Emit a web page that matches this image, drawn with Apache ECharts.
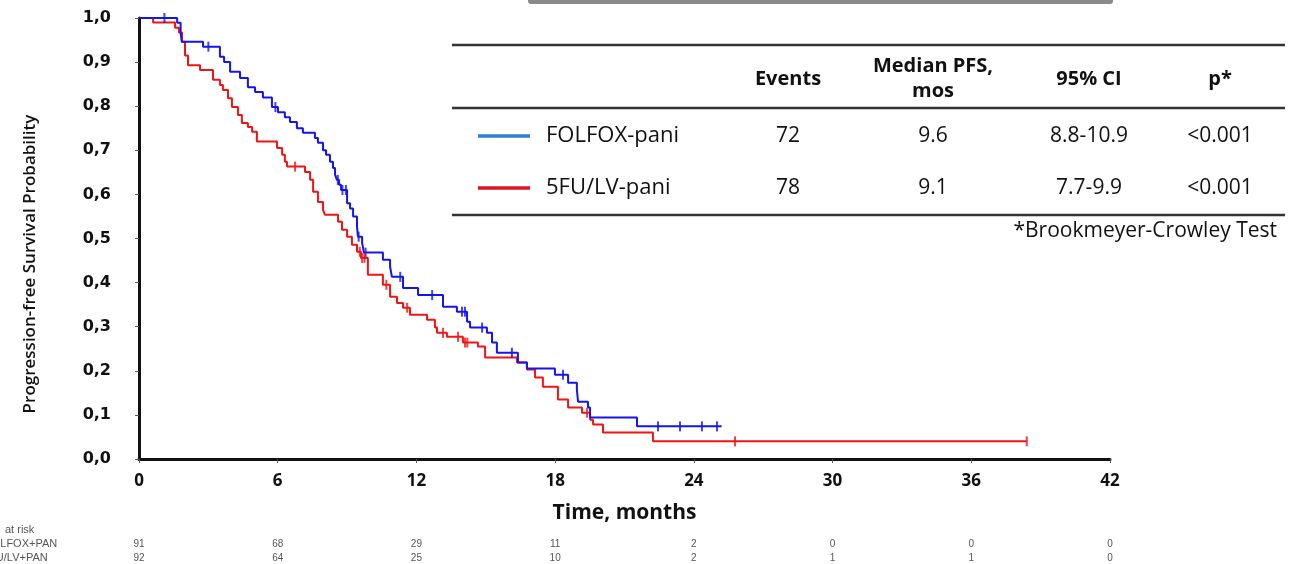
<!DOCTYPE html>
<html><head><meta charset="utf-8">
<script src="https://cdn.jsdelivr.net/npm/echarts@6/dist/echarts.min.js"></script>
<style>html,body{margin:0;padding:0;background:#fff}#c{width:1299px;height:564px}</style>
</head><body><div id="c"></div>
<script>
// ---- data ----
const xTicks = [0, 6, 12, 18, 24, 30, 36, 42];
const yTickLabels = ['0,0','0,1','0,2','0,3','0,4','0,5','0,6','0,7','0,8','0,9','1,0'];

// FOLFOX-pani (blue) KM steps: event time (months) and survival after the event
const folfoxTimes = [0, 1.65, 1.8, 1.85, 2.77, 3.5, 3.68, 3.94, 4.37, 4.71, 5.02, 5.36, 5.75, 6.01, 6.31, 6.53, 6.83, 7.09, 7.61, 7.74, 7.96, 8.09, 8.26, 8.39, 8.48, 8.56, 8.65, 8.74, 9.0, 9.13, 9.26, 9.43, 9.47, 9.65, 9.73, 10.55, 10.86, 10.94, 11.42, 12.07, 13.15, 13.75, 14.19, 14.32, 15.05, 15.27, 15.48, 16.39, 16.78, 17.99, 18.56, 18.94, 18.99, 19.42, 19.51, 21.54, 25.2];
const folfoxSurv  = [1.0, 0.989, 0.967, 0.946, 0.935, 0.912, 0.900, 0.878, 0.864, 0.843, 0.832, 0.820, 0.798, 0.786, 0.775, 0.764, 0.750, 0.740, 0.728, 0.717, 0.700, 0.690, 0.674, 0.660, 0.645, 0.633, 0.622, 0.610, 0.580, 0.568, 0.550, 0.527, 0.504, 0.490, 0.468, 0.452, 0.436, 0.413, 0.388, 0.372, 0.345, 0.334, 0.311, 0.298, 0.286, 0.264, 0.241, 0.219, 0.205, 0.191, 0.173, 0.157, 0.130, 0.117, 0.094, 0.074, 0.074];
const folfoxCensor = [1.1, 3.0, 5.9, 8.6, 8.8, 8.95, 9.5, 9.8, 11.3, 12.68, 13.97, 14.1, 14.84, 16.13, 18.34, 22.45, 23.4, 24.35, 25.0];

// 5FU/LV-pani (red)
const fuTimes = [0, 0.61, 1.56, 1.73, 1.86, 1.99, 2.12, 2.64, 3.2, 3.5, 3.63, 3.85, 4.02, 4.28, 4.45, 4.71, 4.89, 5.1, 5.97, 6.19, 6.31, 6.4, 7.18, 7.4, 7.53, 7.74, 7.96, 8.04, 8.61, 8.78, 9.0, 9.21, 9.43, 9.6, 9.9, 10.55, 10.86, 11.16, 11.42, 11.72, 12.46, 12.8, 12.89, 13.32, 14.01, 14.66, 14.97, 16.35, 16.78, 17.13, 17.47, 18.12, 18.56, 19.16, 19.51, 19.64, 20.07, 22.23, 38.4];
const fuSurv  = [1.0, 0.990, 0.978, 0.967, 0.946, 0.915, 0.893, 0.882, 0.860, 0.848, 0.837, 0.818, 0.798, 0.780, 0.762, 0.753, 0.742, 0.720, 0.705, 0.690, 0.674, 0.663, 0.651, 0.633, 0.606, 0.583, 0.565, 0.554, 0.538, 0.520, 0.504, 0.486, 0.470, 0.456, 0.418, 0.395, 0.368, 0.354, 0.343, 0.327, 0.316, 0.298, 0.286, 0.277, 0.264, 0.255, 0.230, 0.219, 0.203, 0.185, 0.164, 0.135, 0.117, 0.105, 0.089, 0.078, 0.060, 0.040, 0.040];
const fuCensor = [6.75, 9.55, 9.65, 9.75, 10.7, 11.6, 13.15, 13.8, 14.1, 14.2, 19.38, 25.78, 38.4];

// numbers at risk
const riskFolfox = [91, 68, 29, 11, 2, 0, 0, 0];
const riskFu     = [92, 64, 25, 10, 2, 1, 1, 0];

// summary table
const tableHeader = ['Events', 'Median PFS,\nmos', '95% CI', 'p*'];
const rowFolfox = ['FOLFOX-pani', '72', '9.6', '8.8-10.9', '<0.001'];
const rowFu     = ['5FU/LV-pani', '78', '9.1', '7.7-9.9', '<0.001'];
const footnote = '*Brookmeyer-Crowley Test';

// ---- build ----
const BLUE = '#1414f2', RED = '#f21414';
function pairs(t, s) { return t.map((v, i) => [v, s[i]]); }
function survAt(t, s, x) { let v = s[0]; for (let i = 0; i < t.length; i++) { if (t[i] <= x) v = s[i]; } return v; }
function censorPts(ct, t, s) { return ct.map(x => [x, survAt(t, s, x)]); }

const chart = echarts.init(document.getElementById('c'));
const TF = '"Open Sans", sans-serif';
const colX = [788, 933, 1089, 1220];
const g = [];
// top gray bar
g.push({type:'rect', shape:{x:528, y:-6, width:585, height:10, r:3}, style:{fill:'#8a8a8a'}});
// table rules
[45, 108, 215].forEach(y => g.push({type:'line', shape:{x1:452, y1:y, x2:1285, y2:y}, style:{stroke:'#333', lineWidth:2.5}}));
g.push({type:'text', x:colX[0], y:79, style:{text:tableHeader[0], font:'bold 20px ' + TF, fill:'#111', align:'center', verticalAlign:'middle'}});
g.push({type:'text', x:colX[1], y:79, style:{text:tableHeader[1], font:'bold 20px ' + TF, fill:'#111', align:'center', verticalAlign:'middle', lineHeight:25}});
g.push({type:'text', x:colX[2], y:79, style:{text:tableHeader[2], font:'bold 20px ' + TF, fill:'#111', align:'center', verticalAlign:'middle'}});
g.push({type:'text', x:colX[3], y:79, style:{text:tableHeader[3], font:'bold 20px ' + TF, fill:'#111', align:'center', verticalAlign:'middle'}});
[[rowFolfox, 136, '#2b7fd6'], [rowFu, 188, '#e0141e']].forEach(([row, y, col]) => {
  g.push({type:'line', shape:{x1:478, y1:y, x2:530, y2:y}, style:{stroke:col, lineWidth:3.5}});
  g.push({type:'text', x:546, y:y, style:{text:row[0], font:'22px ' + TF, fill:'#111', align:'left', verticalAlign:'middle'}});
  for (let i = 1; i < row.length; i++) g.push({type:'text', x:colX[i-1], y:y, style:{text:row[i], font:'21px ' + TF, fill:'#111', align:'center', verticalAlign:'middle'}});
});
g.push({type:'text', x:1277, y:231, style:{text:footnote, font:'21px ' + TF, fill:'#111', align:'right', verticalAlign:'middle'}});
// y axis title
g.push({type:'text', x:30, y:264, rotation:Math.PI/2, style:{text:'Progression-free Survival Probability', font:'600 17px ' + TF, fill:'#111', align:'center', verticalAlign:'middle'}});
// at risk labels (cropped at left edge in the original)
const RF = '11px "Liberation Sans", Arial';
g.push({type:'text', x:5, y:530, style:{text:'at risk', font:RF, fill:'#555', align:'left', verticalAlign:'middle'}});
g.push({type:'text', x:-15, y:544, style:{text:'FOLFOX+PAN', font:RF, fill:'#555', align:'left', verticalAlign:'middle'}});
g.push({type:'text', x:-17, y:558, style:{text:'5FU/LV+PAN', font:RF, fill:'#555', align:'left', verticalAlign:'middle'}});

const option = {
  backgroundColor: '#fff',
  animation: false,
  grid: {left: 139, right: 189, top: 18, bottom: 105, containLabel: false, outerBoundsMode: 'none'},
  xAxis: {
    type: 'value', min: 0, max: 42, interval: 6,
    name: 'Time, months', nameLocation: 'middle', nameGap: 44, nameMoveOverlap: false,
    nameTextStyle: {fontFamily: 'Open Sans', fontWeight: 'bold', fontSize: 21, color: '#111'},
    axisLine: {show: true, lineStyle: {color: '#111', width: 3}},
    axisTick: {show: true, length: 4, lineStyle: {color: '#555'}},
    splitLine: {show: false},
    axisLabel: {
      margin: 12,
      formatter: v => { const i = xTicks.indexOf(v); return '{t|' + v + '}\n{gap|}\n{a|' + riskFolfox[i] + '}\n{b|' + riskFu[i] + '}'; },
      rich: {
        t: {fontFamily: 'Open Sans', fontWeight: 'bold', fontSize: 17, color: '#111', lineHeight: 20},
        gap: {lineHeight: 46, fontSize: 9},
        a: {fontFamily: 'Liberation Sans', fontSize: 10, color: '#555', lineHeight: 14},
        b: {fontFamily: 'Liberation Sans', fontSize: 10, color: '#555', lineHeight: 14}
      }
    }
  },
  yAxis: {
    type: 'value', min: 0, max: 1, interval: 0.1,
    axisLine: {show: true, lineStyle: {color: '#111', width: 3}},
    axisTick: {show: true, length: 4, lineStyle: {color: '#555'}},
    splitLine: {show: false},
    axisLabel: {margin: 28, fontFamily: 'DejaVu Sans', fontWeight: 'bold', fontSize: 16, color: '#111',
      formatter: v => yTickLabels[Math.round(v * 10)]}
  },
  series: [
    {type: 'line', step: 'end', data: pairs(folfoxTimes, folfoxSurv), showSymbol: false, lineStyle: {color: BLUE, width: 2}, z: 3},
    {type: 'line', step: 'end', data: pairs(fuTimes, fuSurv), showSymbol: false, lineStyle: {color: RED, width: 2}, z: 2},
    {type: 'scatter', data: censorPts(folfoxCensor, folfoxTimes, folfoxSurv), symbol: 'rect', symbolSize: [2, 10], itemStyle: {color: BLUE}, z: 4},
    {type: 'scatter', data: censorPts(fuCensor, fuTimes, fuSurv), symbol: 'rect', symbolSize: [2, 10], itemStyle: {color: RED}, z: 4}
  ],
  graphic: g
};
chart.setOption(option);
</script></body></html>
